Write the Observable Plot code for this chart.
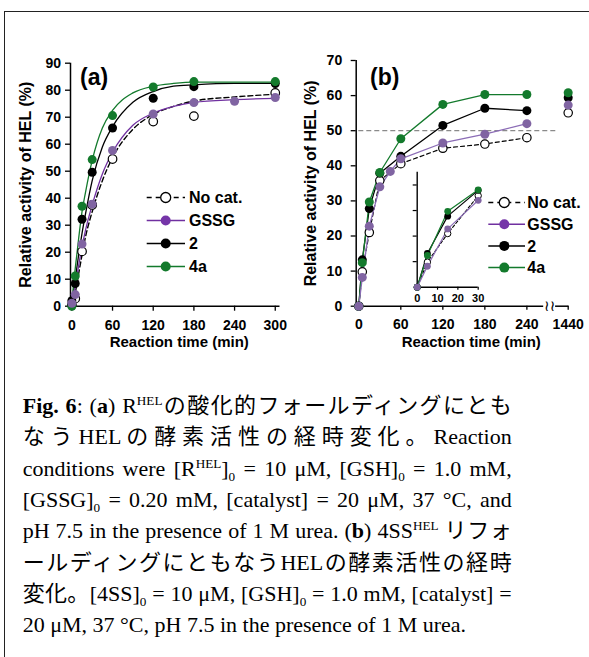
<!DOCTYPE html>
<html><head><meta charset="utf-8">
<script src="https://cdn.jsdelivr.net/npm/d3@7"></script>
<script src="https://cdn.jsdelivr.net/npm/@observablehq/plot@0.6"></script>
<style>
html,body{margin:0;padding:0;background:#fff;}
#root{position:relative;width:589px;height:657px;overflow:hidden;background:#fff;}
#frame{position:absolute;left:4px;top:11px;width:700px;height:700px;border-left:1.5px solid #222;border-top:1.5px solid #222;}
.abs{position:absolute;}
.tag{position:absolute;font:bold 23px "Liberation Sans",Arial,sans-serif;line-height:23px;color:#000;}
#caption{position:absolute;left:22.7px;top:390.2px;width:489px;font-family:"Liberation Serif","Times New Roman","Noto Sans CJK JP",serif;font-size:22px;color:#000;}
#caption .ln{height:31.3px;line-height:31.3px;text-align:justify;text-align-last:justify;}
#caption .ln.last{text-align-last:left;}
#caption sup,#caption sub{font-size:0.6em;line-height:0;}
</style>
</head><body>
<div id="root">
  <div id="frame"></div>
  <div id="panelA" class="abs" style="left:0;top:0"></div>
  <div id="panelB" class="abs" style="left:295px;top:0"></div>
  <div id="inset" class="abs" style="left:380px;top:160px"></div>
  <div class="tag" style="left:80px;top:66px">(a)</div>
  <div class="tag" style="left:370px;top:66px">(b)</div>
  <div id="legend" class="abs" style="left:0;top:0"></div>
  <div id="caption">
    <div class="ln"><b>Fig. 6</b>: (<b>a</b>) R<sup>HEL</sup>の酸化的フォールディングにとも</div>
    <div class="ln">な う HEL の 酵 素 活 性 の 経 時 変 化 。 Reaction</div>
    <div class="ln">conditions were [R<sup>HEL</sup>]<sub>0</sub> = 10 μM, [GSH]<sub>0</sub> = 1.0 mM,</div>
    <div class="ln">[GSSG]<sub>0</sub> = 0.20 mM, [catalyst] = 20 μM, 37 °C, and</div>
    <div class="ln">pH 7.5 in the presence of 1 M urea. (<b>b</b>) 4SS<sup>HEL</sup> リフォ</div>
    <div class="ln">ールディングにともなうHELの酵素活性の経時</div>
    <div class="ln">変化。[4SS]<sub>0</sub> = 10 μM, [GSH]<sub>0</sub> = 1.0 mM, [catalyst] =</div>
    <div class="ln last">20 μM, 37 °C, pH 7.5 in the presence of 1 M urea.</div>
  </div>
</div>
<script>
// ---------- data ----------
const seriesNames = ["No cat.", "GSSG", "2", "4a"];
const yTitle = "Relative activity of HEL (%)";
const xTitle = "Reaction time (min)";

// Panel (a): measured points
const timesA = [0, 5, 15, 30, 60, 120, 180, 240, 300];
const noCatA = [0.5, 2.8, 20.3, 37.5, 54.5, 68.4, 70.4, null, 79.0];
const gssgA  = [1.1, 4.3, 23.0, 37.8, 57.7, 71.2, 75.4, 75.9, 77.3];
const cat2A  = [2.0, 8.4, 32.2, 49.6, 66.0, 77.0, 81.3, null, 82.5];
const cat4aA = [0.0, 11.2, 37.0, 54.3, 70.6, 81.2, 83.2, null, 83.2];
// Panel (a): fitted curves
const fitT      = [0, 5, 10, 15, 20, 30, 45, 60, 90, 120, 150, 180, 240, 300];
const fitNoCat  = [0, 5, 12, 19, 25.5, 35, 46.5, 55, 65.5, 71, 74, 76, 77.5, 78.5];
const fitGssg   = [0, 7, 15, 22, 28, 37.5, 49, 57, 67, 71.5, 74, 75.5, 76.5, 77];
const fit2      = [1, 10, 19, 27, 34, 46.5, 59, 66.5, 75.5, 79.5, 81.5, 82, 82.5, 82.5];
const fit4a     = [2, 14, 25, 35, 42, 54, 66, 72.5, 79, 81.5, 82.5, 83, 83, 83];
const xTicksA = [0, 60, 120, 180, 240, 300];
const yTicksA = [0, 10, 20, 30, 40, 50, 60, 70, 80, 90];

// Panel (b)
const timesB     = [0, 5, 15, 30, 60, 120, 180, 240, 1440];
const noCatB     = [0, 9.8, 21.0, 35.8, 40.6, 45.0, 46.2, 48.0, 55.1];
const gssgTimesB = [0, 5, 15, 30, 45, 60, 120, 180, 240, 1440];
const gssgB      = [0, 8.2, 22.8, 34.0, 38.4, 42.0, 46.5, 49.0, 52.0, 57.3];
const cat2B      = [0, 13.2, 27.8, 37.9, 42.7, 51.5, 56.4, 55.7, 59.4];
const cat4aB     = [0, 12.4, 29.7, 38.1, 47.7, 57.5, 60.3, 60.3, 60.8];
const xTicksB = [0, 60, 120, 180, 240, 1440];
const yTicksB = [0, 10, 20, 30, 40, 50, 60, 70];
const refLineB = 50;
const xTicksInset = [0, 10, 20, 30];
const yTicksInset = [10, 20, 30, 40];

// ---------- styling ----------
const C = {nocat: "#000", gssgLine: "#7030a0", gssgPt: "#8064a2", gssgLineB: "#8b6cb6", gssgLeg: "#7535a8", c2: "#000", c4a: "#137a2c"};
const font = '"Liberation Sans", Arial, sans-serif';
const baseStyle = {fontFamily: font, fontWeight: "bold", color: "#000", background: "transparent", overflow: "visible"};

const rows = (times, vals) => times.map((t, i) => ({t, v: vals[i]})).filter(d => d.v != null);

// ---------- panel (a) ----------
const plotA = Plot.plot({
  width: 295, height: 360,
  marginLeft: 70, marginRight: 15.5, marginTop: 62.7, marginBottom: 54.3,
  x: {domain: [-2, 307]},
  y: {domain: [0, 90]},
  style: baseStyle,
  marks: [
    Plot.axisY({ticks: yTicksA, tickSize: 5, tickPadding: 4.5, fontSize: 14, label: null, strokeWidth: 1.3}),
    Plot.axisX({ticks: xTicksA, tickSize: 5, tickPadding: 9.3, fontSize: 14, label: null, strokeWidth: 1.3}),
    Plot.text([yTitle], {frameAnchor: "left", textAnchor: "middle", lineAnchor: "middle", rotate: -90, dx: -44.2, fontSize: 16, fontWeight: "bold"}),
    Plot.text([xTitle], {frameAnchor: "bottom", textAnchor: "middle", lineAnchor: "middle", dx: 4, dy: 36, fontSize: 15, fontWeight: "bold"}),
    Plot.line(rows(fitT, fitNoCat), {x: "t", y: "v", curve: "monotone-x", stroke: C.nocat, strokeWidth: 1.4, strokeDasharray: "5,3"}),
    Plot.line(rows(fitT, fit2), {x: "t", y: "v", curve: "monotone-x", stroke: C.c2, strokeWidth: 1.3}),
    Plot.line(rows(fitT, fit4a), {x: "t", y: "v", curve: "monotone-x", stroke: C.c4a, strokeWidth: 1.3}),
    Plot.line(rows(fitT, fitGssg), {x: "t", y: "v", curve: "monotone-x", stroke: C.gssgLine, strokeWidth: 1.3}),
    Plot.ruleX([-2], {stroke: "#000", strokeWidth: 1.5}),
    Plot.ruleY([0], {stroke: "#000", strokeWidth: 1.5}),
    Plot.dot(rows(timesA, noCatA), {x: "t", y: "v", r: 4.3, fill: "#fff", stroke: "#000", strokeWidth: 1.2}),
    Plot.dot(rows(timesA, cat2A), {x: "t", y: "v", r: 4.5, fill: C.c2}),
    Plot.dot(rows(timesA, cat4aA), {x: "t", y: "v", r: 4.5, fill: C.c4a}),
    Plot.dot(rows(timesA, gssgA), {x: "t", y: "v", r: 4.5, fill: C.gssgPt})
  ]
});
document.getElementById("panelA").append(plotA);

// ---------- panel (b) ----------
const pos1440 = 299;              // slot of the 1440-min point on the broken axis
const xb = t => t === 1440 ? pos1440 : t;
const axisEnd = 264, axisRestart = 281, axisStop = 300, breakAt = 272.5, refEnd = 284;
const rowsB = (times, vals) => times.map((t, i) => ({t: xb(t), raw: t, v: vals[i]}));
const lineOnly = arr => arr.filter(d => d.raw <= 240);
const nB = rowsB(timesB, noCatB), gB = rowsB(gssgTimesB, gssgB), bB = rowsB(timesB, cat2B), eB = rowsB(timesB, cat4aB);

const plotB = Plot.plot({
  width: 294, height: 360,
  marginLeft: 60.7, marginRight: 19.2, marginTop: 60, marginBottom: 54.3,
  x: {domain: [-3.7, 302]},
  y: {domain: [0, 70]},
  style: baseStyle,
  marks: [
    Plot.axisY({ticks: yTicksB, tickSize: 5, tickPadding: 9, fontSize: 14, label: null, strokeWidth: 1.3}),
    Plot.axisX({ticks: xTicksB.map(xb), tickFormat: d => d === pos1440 ? "1440" : String(d), tickSize: 4, tickPadding: 8.6, fontSize: 14, label: null, strokeWidth: 1.3}),
    Plot.text([yTitle], {frameAnchor: "left", textAnchor: "middle", lineAnchor: "middle", rotate: -90, dx: -44.9, fontSize: 16, fontWeight: "bold"}),
    Plot.text([xTitle], {frameAnchor: "bottom", textAnchor: "middle", lineAnchor: "middle", dx: 8, dy: 36, fontSize: 15, fontWeight: "bold"}),
    Plot.ruleY([refLineB], {x1: 0, x2: refEnd, stroke: "#8a8a8a", strokeWidth: 1.2, strokeDasharray: "5,3"}),
    Plot.ruleX([-3.7], {stroke: "#000", strokeWidth: 1.5}),
    Plot.ruleY([0], {x1: -3.7, x2: axisEnd, stroke: "#000", strokeWidth: 1.5}),
    Plot.ruleY([0], {x1: axisRestart, x2: axisStop, stroke: "#000", strokeWidth: 1.5}),
    Plot.text(["≀≀"], {x: breakAt, y: 0, fontSize: 15, fontWeight: "normal", fontFamily: "DejaVu Sans"}),
    Plot.line(lineOnly(nB), {x: "t", y: "v", stroke: C.nocat, strokeWidth: 1.2, strokeDasharray: "4,3"}),
    Plot.line(lineOnly(bB), {x: "t", y: "v", stroke: C.c2, strokeWidth: 1.3}),
    Plot.line(lineOnly(eB), {x: "t", y: "v", stroke: C.c4a, strokeWidth: 1.3}),
    Plot.line(lineOnly(gB), {x: "t", y: "v", stroke: C.gssgLineB, strokeWidth: 1.3}),
    Plot.dot(nB, {x: "t", y: "v", r: 4.2, fill: "#fff", stroke: "#000", strokeWidth: 1.2}),
    Plot.dot(bB, {x: "t", y: "v", r: 4.5, fill: C.c2}),
    Plot.dot(eB, {x: "t", y: "v", r: 4.5, fill: C.c4a}),
    Plot.dot(gB, {x: "t", y: "v", r: 4.5, fill: C.gssgPt})
  ]
});
document.getElementById("panelB").append(plotB);

// ---------- inset (first 30 min of panel b) ----------
const inWin = arr => arr.filter(d => d.raw <= 30);
const plotIn = Plot.plot({
  width: 110, height: 150,
  marginLeft: 36.7, marginRight: 12.3, marginTop: 11.7, marginBottom: 23.3,
  x: {domain: [0, 30]},
  y: {domain: [0, 45]},
  style: baseStyle,
  marks: [
    Plot.axisY({ticks: yTicksInset, tickSize: 4, tickFormat: () => "", label: null, strokeWidth: 1.2}),
    Plot.axisX({ticks: xTicksInset, tickSize: 3, tickPadding: 3.6, fontSize: 11, label: null, strokeWidth: 1.2}),
    Plot.ruleX([0], {stroke: "#000", strokeWidth: 1.4}),
    Plot.ruleY([0], {stroke: "#000", strokeWidth: 1.4}),
    Plot.line(inWin(nB), {x: "t", y: "v", stroke: C.nocat, strokeWidth: 1.1, strokeDasharray: "3,2"}),
    Plot.line(inWin(bB), {x: "t", y: "v", stroke: C.c2, strokeWidth: 1.2}),
    Plot.line(inWin(eB), {x: "t", y: "v", stroke: C.c4a, strokeWidth: 1.2}),
    Plot.line(inWin(gB), {x: "t", y: "v", stroke: C.gssgLineB, strokeWidth: 1.2}),
    Plot.dot(inWin(nB), {x: "t", y: "v", r: 3.2, fill: "#fff", stroke: "#000", strokeWidth: 1}),
    Plot.dot(inWin(bB), {x: "t", y: "v", r: 3.4, fill: C.c2}),
    Plot.dot(inWin(eB), {x: "t", y: "v", r: 3.4, fill: C.c4a}),
    Plot.dot(inWin(gB), {x: "t", y: "v", r: 3.4, fill: C.gssgPt})
  ]
});
document.getElementById("inset").append(plotIn);

// ---------- legends ----------
const legendStyles = [
  {name: seriesNames[0], stroke: "#000", dash: "5,4", fill: "#fff", ring: "#000"},
  {name: seriesNames[1], stroke: C.gssgLine, dash: null, fill: C.gssgLeg, ring: null},
  {name: seriesNames[2], stroke: "#000", dash: null, fill: "#000", ring: null},
  {name: seriesNames[3], stroke: C.c4a, dash: null, fill: C.c4a, ring: null}
];
const legSvg = d3.create("svg").attr("width", 589).attr("height", 360).style("display", "block").style("overflow", "visible");
function legend(x0, x1, cx, tx, ys) {
  legendStyles.forEach((s, i) => {
    const y = ys[i];
    legSvg.append("line").attr("x1", x0).attr("x2", x1).attr("y1", y).attr("y2", y)
      .attr("stroke", s.stroke).attr("stroke-width", 1.5).attr("stroke-dasharray", s.dash);
    legSvg.append("circle").attr("cx", cx).attr("cy", y).attr("r", 5)
      .attr("fill", s.fill).attr("stroke", s.ring).attr("stroke-width", s.ring ? 1.3 : null);
    legSvg.append("text").attr("x", tx).attr("y", y).attr("dy", "0.35em").text(s.name)
      .attr("font-family", font).attr("font-weight", "bold").attr("font-size", 16);
  });
}
legend(146.7, 185, 165.7, 189, [197.5, 220.5, 243.5, 266.5]);
legend(488.3, 525, 504.3, 527.3, [202.5, 224.2, 245.9, 267.6]);
document.getElementById("legend").append(legSvg.node());
</script>
</body></html>
